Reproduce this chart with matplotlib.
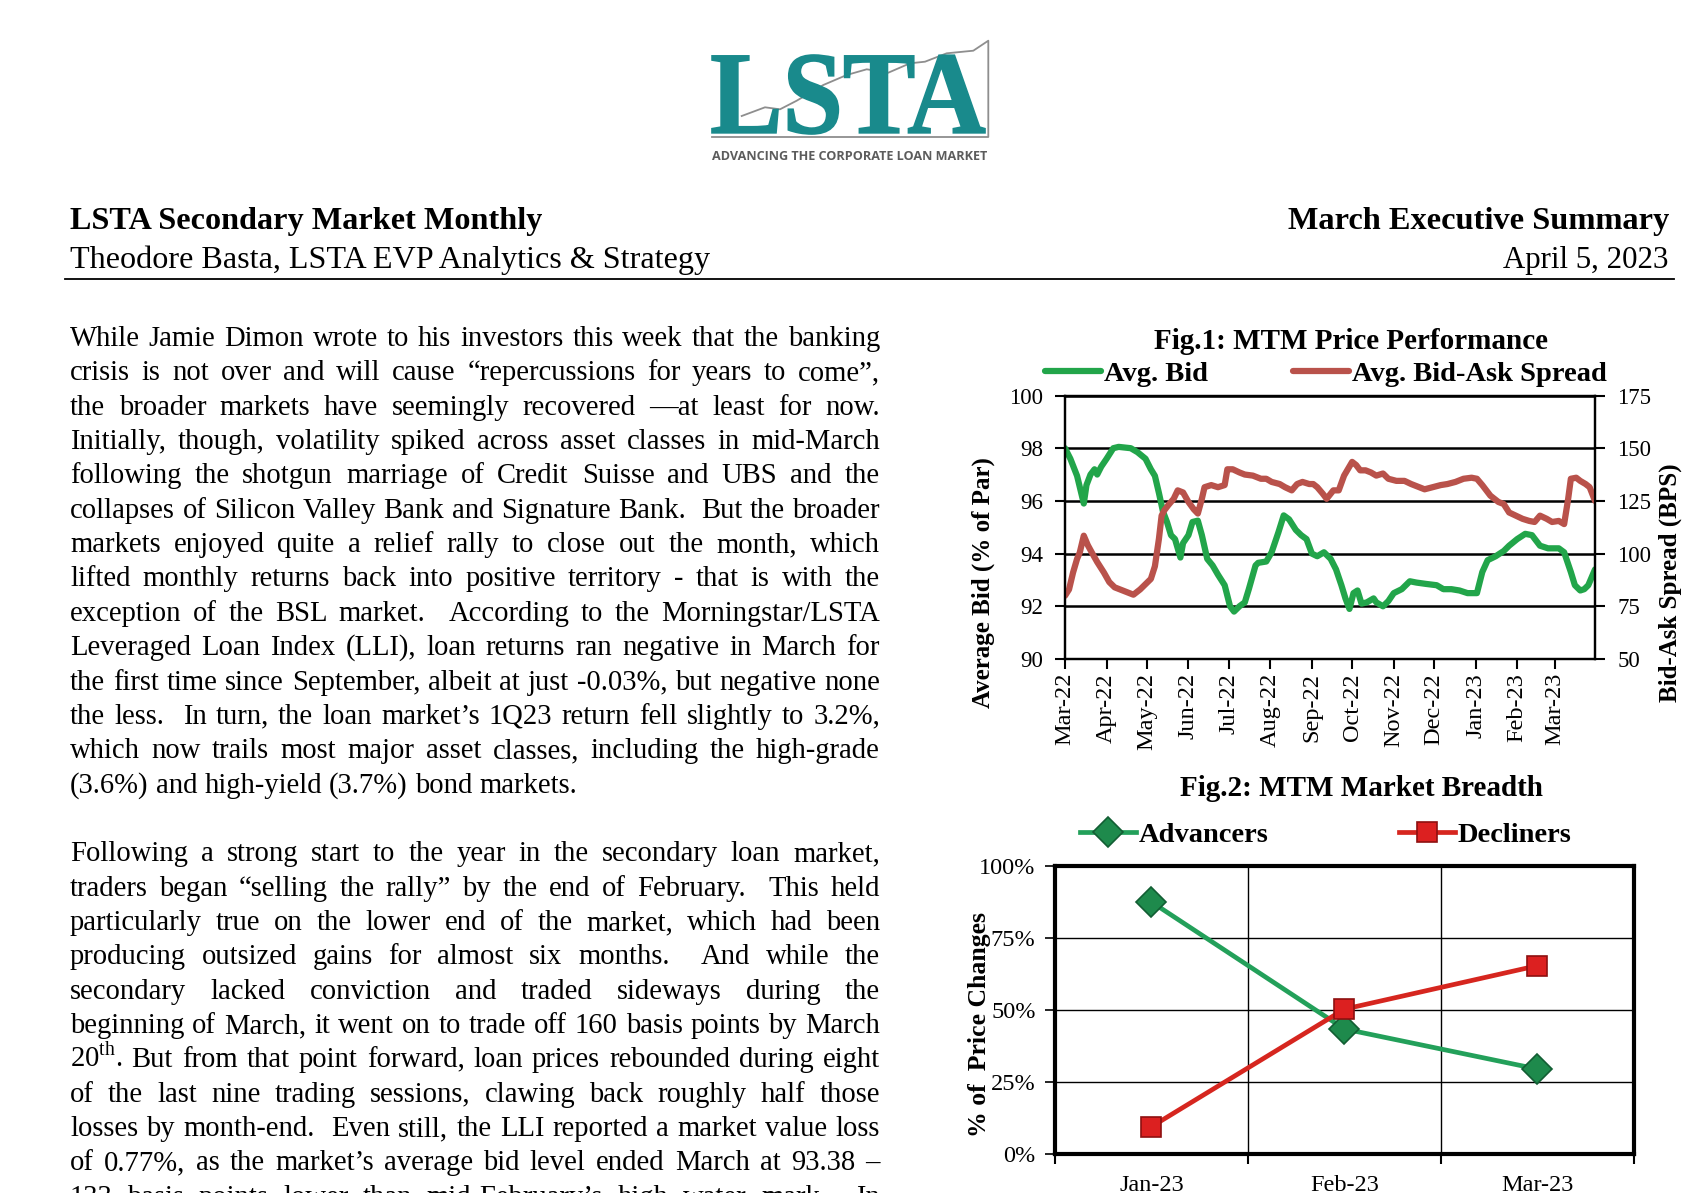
import matplotlib
matplotlib.use('Agg')
import matplotlib.pyplot as plt
import matplotlib.dates as mdates
import pandas as pd
from matplotlib.lines import Line2D
from matplotlib.patches import PathPatch
from matplotlib.textpath import TextPath
from matplotlib.font_manager import FontProperties
from matplotlib.transforms import Affine2D
from matplotlib.ticker import PercentFormatter, FixedLocator

plt.rcParams['font.family'] = ['Liberation Serif', 'DejaVu Serif']
plt.rcParams['mathtext.fontset'] = 'custom'
plt.rcParams['mathtext.rm'] = 'Liberation Serif'

# page size in pixels (dpi 100)
FIG_W, FIG_H = 1699, 1193

# Fig.1 data - average bid (% of par) and bid-ask spread (bps)
BID_DATES = ['2022-03-01', '2022-03-05', '2022-03-10', '2022-03-15', '2022-03-17', '2022-03-20',
             '2022-03-23', '2022-03-25', '2022-03-28', '2022-04-01', '2022-04-06', '2022-04-10',
             '2022-04-19', '2022-04-24', '2022-04-30', '2022-05-04', '2022-05-07', '2022-05-10',
             '2022-05-13', '2022-05-16', '2022-05-19', '2022-05-22', '2022-05-26', '2022-05-28',
             '2022-06-01', '2022-06-04', '2022-06-08', '2022-06-11', '2022-06-15', '2022-06-19',
             '2022-06-23', '2022-06-28', '2022-07-02', '2022-07-05', '2022-07-09', '2022-07-13',
             '2022-07-16', '2022-07-21', '2022-07-23', '2022-07-29', '2022-08-02', '2022-08-07',
             '2022-08-11', '2022-08-15', '2022-08-20', '2022-08-24', '2022-08-28', '2022-09-01',
             '2022-09-05', '2022-09-10', '2022-09-15', '2022-09-19', '2022-09-23', '2022-09-26',
             '2022-09-29', '2022-10-02', '2022-10-05', '2022-10-08', '2022-10-12', '2022-10-17',
             '2022-10-19', '2022-10-24', '2022-10-28', '2022-11-01', '2022-11-07', '2022-11-13',
             '2022-11-18', '2022-11-25', '2022-12-03', '2022-12-08', '2022-12-14', '2022-12-20',
             '2022-12-26', '2023-01-02', '2023-01-06', '2023-01-10', '2023-01-16', '2023-01-22',
             '2023-01-26', '2023-02-01', '2023-02-07', '2023-02-12', '2023-02-18', '2023-02-24',
             '2023-03-04', '2023-03-08', '2023-03-13', '2023-03-16', '2023-03-20', '2023-03-23',
             '2023-03-26', '2023-03-31']
BID_VALUES = [98.0, 97.6, 96.95, 95.9, 96.6, 97.0,
              97.2, 97.0, 97.3, 97.6, 98.0, 98.05,
              98.0, 97.85, 97.6, 97.2, 96.95, 96.3,
              95.6, 95.2, 94.7, 94.55, 93.85, 94.4,
              94.7, 95.2, 95.25, 94.7, 93.8, 93.55,
              93.2, 92.8, 92.0, 91.8, 92.0, 92.15,
              92.65, 93.55, 93.65, 93.7, 94.05, 94.8,
              95.45, 95.3, 94.9, 94.7, 94.55, 94.0,
              93.9, 94.05, 93.8, 93.4, 92.8, 92.3,
              91.9, 92.5, 92.6, 92.1, 92.15, 92.3,
              92.15, 92.0, 92.2, 92.5, 92.65, 92.95,
              92.9, 92.85, 92.8, 92.65, 92.65, 92.6,
              92.5, 92.5, 93.3, 93.75, 93.9, 94.1,
              94.3, 94.55, 94.75, 94.7, 94.3, 94.2,
              94.2, 94.05, 93.3, 92.8, 92.6, 92.65,
              92.8, 93.4]

SPREAD_DATES = ['2022-03-01', '2022-03-04', '2022-03-07', '2022-03-10', '2022-03-12', '2022-03-15',
                '2022-03-18', '2022-03-21', '2022-03-25', '2022-03-30', '2022-04-03', '2022-04-07',
                '2022-04-13', '2022-04-17', '2022-04-21', '2022-04-26', '2022-04-30', '2022-05-04',
                '2022-05-07', '2022-05-10', '2022-05-12', '2022-05-14', '2022-05-17', '2022-05-21',
                '2022-05-24', '2022-05-28', '2022-06-01', '2022-06-05', '2022-06-08', '2022-06-11',
                '2022-06-13', '2022-06-18', '2022-06-23', '2022-06-28', '2022-06-30', '2022-07-04',
                '2022-07-09', '2022-07-13', '2022-07-19', '2022-07-25', '2022-07-29', '2022-08-02',
                '2022-08-08', '2022-08-12', '2022-08-17', '2022-08-21', '2022-08-25', '2022-08-30',
                '2022-09-02', '2022-09-05', '2022-09-09', '2022-09-12', '2022-09-17', '2022-09-21',
                '2022-09-25', '2022-10-01', '2022-10-04', '2022-10-07', '2022-10-11', '2022-10-15',
                '2022-10-19', '2022-10-24', '2022-10-28', '2022-11-03', '2022-11-09', '2022-11-14',
                '2022-11-20', '2022-11-24', '2022-11-30', '2022-12-06', '2022-12-11', '2022-12-17',
                '2022-12-23', '2022-12-29', '2023-01-02', '2023-01-06', '2023-01-12', '2023-01-18',
                '2023-01-22', '2023-01-26', '2023-01-31', '2023-02-05', '2023-02-10', '2023-02-14',
                '2023-02-18', '2023-02-23', '2023-02-27', '2023-03-04', '2023-03-08', '2023-03-11',
                '2023-03-13', '2023-03-17', '2023-03-20', '2023-03-24', '2023-03-27', '2023-03-31']
SPREAD_VALUES = [80, 83, 91, 97.5, 100.5, 108.5,
                 104, 100.5, 96, 91, 86.5, 84,
                 82.5, 81.5, 80.5, 83, 85.5, 88,
                 94, 107, 118, 120.5, 123, 126,
                 130, 129, 124.5, 121, 119, 126,
                 131.5, 132.5, 131.5, 132.5, 140, 140,
                 138.5, 137.5, 137, 135.5, 135.5, 134,
                 133, 131.5, 130, 133, 134, 133,
                 133, 131.5, 128.5, 126, 130, 130,
                 137, 143.5, 142, 139.5, 139.5, 138.5,
                 137, 138, 135.5, 134.5, 134.5, 133,
                 131.5, 130.5, 131.5, 132.5, 133, 134,
                 135.5, 136, 135.5, 132.5, 127.5, 124.5,
                 123.5, 119.5, 118, 116.5, 115.5, 115,
                 118, 116.5, 115, 115.5, 114, 126,
                 135.5, 136, 134.5, 133, 131.5, 125]

# Fig.2 data - market breadth (% of price changes)
BREADTH_MONTHS = ['Jan-23', 'Feb-23', 'Mar-23']
ADVANCERS = [87.5, 43.4, 29.5]
DECLINERS = [9.5, 50.3, 65.4]

# Logo trend line (pixel coords inside the logo box)
LOGO_LINE_X = [741.7, 765, 780, 796.7, 823.3, 846.7, 866.7, 888.3, 910, 925, 946.7, 973.3, 988.3, 988.3, 712]
LOGO_LINE_Y = [116, 107.3, 109.3, 100.7, 85, 75, 69.3, 72.7, 63.3, 61.7, 53.3, 50.7, 40.7, 137, 137]

# Body text, line by line as in the document
PARA1 = [
    "While Jamie Dimon wrote to his investors this week that the banking",
    "crisis is not over and will cause \u201crepercussions for years to come\u201d,",
    "the broader markets have seemingly recovered \u2014at least for now.",
    "Initially, though, volatility spiked across asset classes in mid-March",
    "following the shotgun marriage of Credit Suisse and UBS and the",
    "collapses of Silicon Valley Bank and Signature Bank.  But the broader",
    "markets enjoyed quite a relief rally to close out the month, which",
    "lifted monthly returns back into positive territory - that is with the",
    "exception of the BSL market.  According to the Morningstar/LSTA",
    "Leveraged Loan Index (LLI), loan returns ran negative in March for",
    "the first time since September, albeit at just -0.03%, but negative none",
    "the less.  In turn, the loan market\u2019s 1Q23 return fell slightly to 3.2%,",
    "which now trails most major asset classes, including the high-grade",
    "(3.6%) and high-yield (3.7%) bond markets.",
]
PARA2 = [
    "Following a strong start to the year in the secondary loan market,",
    "traders began \u201cselling the rally\u201d by the end of February.  This held",
    "particularly true on the lower end of the market, which had been",
    "producing outsized gains for almost six months.  And while the",
    "secondary lacked conviction and traded sideways during the",
    "beginning of March, it went on to trade off 160 basis points by March",
    "20$^{\\mathrm{th}}$. But from that point forward, loan prices rebounded during eight",
    "of the last nine trading sessions, clawing back roughly half those",
    "losses by month-end.  Even still, the LLI reported a market value loss",
    "of 0.77%, as the market\u2019s average bid level ended March at 93.38 \u2013",
    "133 basis points lower than mid-February\u2019s high water mark.  In",
]

GREEN = '#22a54a'
BROWN = '#b9524b'
TEAL = '#198a8c'


#Convert page pixel coords (origin top-left) to figure fraction
def fx(x):
    return x / FIG_W


def fy(y):
    return 1 - y / FIG_H


#Scale a text's font size so it spans the given pixel width
def fitWidth(txt, width, renderer):
    w = txt.get_window_extent(renderer).width
    txt.set_fontsize(txt.get_fontsize() * width / w)


#Draw lines of text justified between x0 and x1
def drawJustified(fig, renderer, lines, x0, x1, baselines, size):
    probe = fig.text(0, 0, 'x x', fontsize=size)
    probe2 = fig.text(0, 0, 'xx', fontsize=size)
    space = probe.get_window_extent(renderer).width - probe2.get_window_extent(renderer).width
    probe.remove()
    probe2.remove()
    for (line, justify), y in zip(lines, baselines):
        words = line.split(' ')
        texts = [fig.text(0, fy(y), w, fontsize=size, va='baseline') for w in words]
        widths = [t.get_window_extent(renderer).width if w else 0 for t, w in zip(texts, words)]
        if justify and len(words) > 1:
            gap = (x1 - x0 - sum(widths)) / (len(words) - 1)
        else:
            gap = space
        x = x0
        for t, w in zip(texts, widths):
            t.set_x(fx(x))
            x += w + gap


fig = plt.figure(figsize=(FIG_W / 100, FIG_H / 100), dpi=100, facecolor='white')
renderer = fig.canvas.get_renderer()

"""
Logo
"""
logo = fig.add_axes([fx(700), fy(172), 300 / FIG_W, 142 / FIG_H])
logo.set_xlim(700, 1000)
logo.set_ylim(172, 30)
logo.axis('off')
logo.plot(LOGO_LINE_X, LOGO_LINE_Y, color='#8e8e8e', lw=1.3, zorder=2)
tp = TextPath((0, 0), 'LSTA', size=100, prop=FontProperties(family='Liberation Serif', weight='bold'))
ext = tp.get_extents()
tr = Affine2D().translate(-ext.x0, -ext.y0).scale(273 / ext.width, -79 / ext.height).translate(712, 134)
logo.add_patch(PathPatch(tr.transform_path(tp), fc=TEAL, ec=TEAL, lw=1.2, zorder=3))
tag = logo.text(850, 156.5, 'ADVANCING THE CORPORATE LOAN MARKET', ha='center', va='center',
                family='Open Sans', weight='bold', color='#5c5c5c', fontsize=9)
fitWidth(tag, 276, renderer)

"""
Header
"""
h1 = fig.text(fx(70), fy(229), 'LSTA Secondary Market Monthly', weight='bold', fontsize=23, va='baseline')
h2 = fig.text(fx(70), fy(268), 'Theodore Basta, LSTA EVP Analytics & Strategy', fontsize=23, va='baseline')
h3 = fig.text(fx(1669), fy(229), 'March Executive Summary', weight='bold', fontsize=23, va='baseline', ha='right')
h4 = fig.text(fx(1669), fy(268), 'April 5, 2023', fontsize=23, va='baseline', ha='right')
fitWidth(h1, 473, renderer)
fitWidth(h2, 641, renderer)
fitWidth(h3, 382, renderer)
fitWidth(h4, 166, renderer)
fig.add_artist(Line2D([fx(65), fx(1674)], [fy(278.5), fy(278.5)], transform=fig.transFigure,
                      color='black', lw=1.3))

"""
Body text
"""
bodyLines = [(l, i < len(PARA1) - 1) for i, l in enumerate(PARA1)] + [(l, True) for l in PARA2]
baselines = [346 + 34.35 * i for i in range(len(PARA1))] + \
            [346 + 34.35 * (i + len(PARA1) + 1) for i in range(len(PARA2))]
# pick a font size so the widest justified line still fits the column
size = 21
widest = 0
for line, justify in bodyLines:
    if justify:
        t = fig.text(0, 0, line, fontsize=size)
        widest = max(widest, t.get_window_extent(renderer).width)
        t.remove()
size = size * min(1.0, 0.99 * (880 - 70) / widest)
drawJustified(fig, renderer, bodyLines, 70, 880, baselines, size)

"""
Fig.1: MTM Price Performance
"""
fig.text(fx(1351), fy(349), 'Fig.1: MTM Price Performance', ha='center', va='baseline',
         weight='bold', fontsize=21)
ax1 = fig.add_axes([fx(1065), fy(659), (1595 - 1065) / FIG_W, (659 - 395.5) / FIG_H])
bidLine, = ax1.plot(pd.to_datetime(BID_DATES), BID_VALUES, color=GREEN, lw=4.5,
                    solid_joinstyle='round', solid_capstyle='round', label='Avg. Bid')
ax1.set_ylim(90, 100)
ax1.set_yticks(range(90, 101, 2))
ax1.set_xlim(pd.Timestamp('2022-03-01'), pd.Timestamp('2023-03-31'))
ax1.xaxis.set_major_locator(mdates.MonthLocator())
ax1.xaxis.set_major_formatter(mdates.DateFormatter('%b-%y'))
ax1.grid(axis='y', color='black', lw=1.8)
ax1.set_axisbelow(True)
ax1.tick_params(axis='both', direction='out', length=7, width=1.5, labelsize=16.5, pad=9)
ax1.tick_params(axis='x', labelrotation=90, labelsize=17.5, pad=3)
ax1.set_ylabel('Average Bid (% of Par)', weight='bold', fontsize=18)
ax1.yaxis.set_label_coords(-0.133, 0.29)

ax1b = ax1.twinx()
spreadLine, = ax1b.plot(pd.to_datetime(SPREAD_DATES), SPREAD_VALUES, color=BROWN, lw=4.5,
                        solid_joinstyle='round', solid_capstyle='round', label='Avg. Bid-Ask Spread')
ax1b.set_ylim(50, 175)
ax1b.set_yticks(range(50, 176, 25))
ax1b.tick_params(axis='y', direction='out', length=7, width=1.5, labelsize=16.5, pad=9)
ax1b.set_ylabel('Bid-Ask Spread (BPS)', weight='bold', fontsize=18, rotation=90)
ax1b.yaxis.set_label_coords(1.12, 0.29)
for ax in (ax1, ax1b):
    for s in ax.spines.values():
        s.set_linewidth(1.6)
        s.set_color('black')

fig.legend(handles=[bidLine, spreadLine], loc='center', bbox_to_anchor=(fx(1326), fy(374)),
           ncol=2, frameon=False, prop={'weight': 'bold', 'size': 20.5},
           handlelength=1.95, handletextpad=0.1, columnspacing=3.0, borderpad=0)

"""
Fig.2: MTM Market Breadth
"""
fig.text(fx(1362), fy(796.5), 'Fig.2: MTM Market Breadth', ha='center', va='baseline',
         weight='bold', fontsize=21)
ax2 = fig.add_axes([fx(1055), fy(1154), (1634 - 1055) / FIG_W, (1154 - 866) / FIG_H])
xs = range(len(BREADTH_MONTHS))
advLine, = ax2.plot(xs, ADVANCERS, color='#23a05a', lw=3.4, marker='D', ms=15,
                    mfc='#1e8a4c', mec='#125e33', mew=1.2, label='Advancers', zorder=3)
decLine, = ax2.plot(xs, DECLINERS, color='#d6261f', lw=3.4, marker='s', ms=14,
                    mfc='#dc2020', mec='#8e1010', mew=1.2, label='Decliners', zorder=4)
ax2.set_xlim(-0.5, 2.5)
ax2.set_ylim(0, 100)
ax2.set_yticks(range(0, 101, 25))
ax2.yaxis.set_major_formatter(PercentFormatter(decimals=0))
ax2.set_xticks(list(xs))
ax2.set_xticklabels(BREADTH_MONTHS)
ax2.xaxis.set_minor_locator(FixedLocator([-0.5, 0.5, 1.5, 2.5]))
ax2.tick_params(axis='x', which='major', length=0, labelsize=17.5, pad=15)
ax2.tick_params(axis='x', which='minor', direction='out', length=7, width=1.5)
ax2.tick_params(axis='y', direction='out', length=7, width=1.2, labelsize=17.5, pad=7)
ax2.grid(axis='y', which='major', color='black', lw=1.0)
ax2.grid(axis='x', which='minor', color='black', lw=1.0)
ax2.set_axisbelow(True)
for s in ax2.spines.values():
    s.set_linewidth(3)
    s.set_color('black')
ax2.set_ylabel('% of  Price Changes', weight='bold', fontsize=18.5)
ax2.yaxis.set_label_coords(-0.11, 0.45)

fig.legend(handles=[advLine, decLine], loc='center', bbox_to_anchor=(fx(1326), fy(835)),
           ncol=2, frameon=False, prop={'weight': 'bold', 'size': 20.5},
           handlelength=1.95, handletextpad=0.1, columnspacing=4.6, borderpad=0)

fig.savefig('out.png', dpi=100, facecolor='white')
